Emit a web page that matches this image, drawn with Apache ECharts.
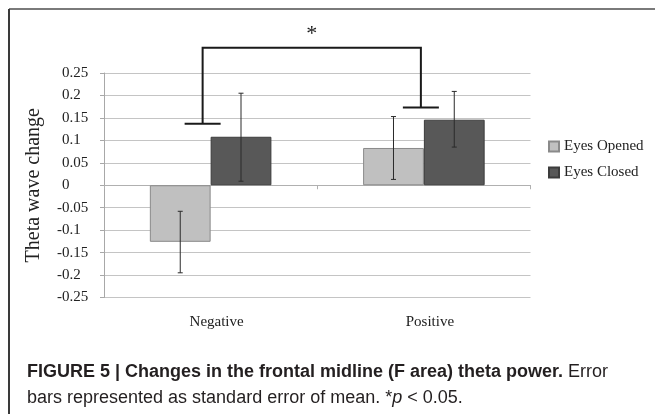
<!DOCTYPE html>
<html>
<head>
<meta charset="utf-8">
<script src="https://cdn.jsdelivr.net/npm/echarts@6/dist/echarts.min.js"></script>
<style>
html,body{margin:0;padding:0;background:#fff;}
#chart{width:655px;height:414px;}
</style>
</head>
<body>
<div id="chart"></div>
<script>
// ---- data ----
const categories = ['Negative', 'Positive'];
const seriesNames = ['Eyes Opened', 'Eyes Closed'];
const eyesOpened = [-0.126, 0.083];
const eyesClosed = [0.108, 0.146];
const openedErrLow = [-0.195, 0.013];
const openedErrHigh = [-0.058, 0.153];
const closedErrLow = [0.009, 0.085];
const closedErrHigh = [0.205, 0.209];
const bracketEnds = [0.137, 0.173];   // cap levels over Negative / Positive
const bracketTop = 0.306;
const starLevel = 0.336;
const yMin = -0.25, yMax = 0.25, yStep = 0.05;

// ---- style constants ----
const CAT_GAP = 0.43;
const serif = 'Liberation Serif';
const lightColor = '#c0c0c0', darkColor = '#585858';

function errData(lo, hi) {
  return categories.map((c, i) => [i, lo[i], hi[i]]);
}
function errRender(sign) {
  return function (params, api) {
    const i = api.value(0);
    const lo = api.coord([i, api.value(1)]);
    const hi = api.coord([i, api.value(2)]);
    const band = api.size([1, 0])[0];
    const bw = band * (1 - CAT_GAP) / 2;
    const cx = lo[0] + sign * bw / 2;
    const cap = 2.5;
    const st = { stroke: '#2a2a2a', lineWidth: 1 };
    return {
      type: 'group',
      children: [
        { type: 'line', shape: { x1: cx, y1: lo[1], x2: cx, y2: hi[1] }, style: st },
        { type: 'line', shape: { x1: cx - cap, y1: hi[1], x2: cx + cap, y2: hi[1] }, style: st },
        { type: 'line', shape: { x1: cx - cap, y1: lo[1], x2: cx + cap, y2: lo[1] }, style: st }
      ]
    };
  };
}
function bracketRender(params, api) {
  const a = api.coord([0, bracketEnds[0]]);
  const b = api.coord([1, bracketEnds[1]]);
  const topY = api.coord([0, bracketTop])[1];
  const starY = api.coord([0, starLevel])[1];
  const ax = a[0] - 8, bx = b[0] - 3;
  const capW = 18;
  const st = { stroke: '#1a1a1a', lineWidth: 2, fill: null };
  return {
    type: 'group',
    children: [
      { type: 'polyline', shape: { points: [[ax, a[1]], [ax, topY], [bx, topY], [bx, b[1]]] }, style: st },
      { type: 'line', shape: { x1: ax - capW, y1: a[1], x2: ax + capW, y2: a[1] }, style: st },
      { type: 'line', shape: { x1: bx - capW, y1: b[1], x2: bx + capW, y2: b[1] }, style: st },
      { type: 'text', x: (ax + bx) / 2, y: starY,
        style: { text: '*', font: '22px "Liberation Serif"', fill: '#1a1a1a', align: 'center', verticalAlign: 'middle' } }
    ]
  };
}

const chart = echarts.init(document.getElementById('chart'), null, { renderer: 'canvas' });
chart.setOption({
  animation: false,
  backgroundColor: '#fff',
  grid: { left: 104, right: 124.5, top: 73, bottom: 116.5, containLabel: false },
  legend: {
    orient: 'vertical', left: 543, top: 134,
    data: seriesNames,
    icon: 'rect', itemWidth: 10, itemHeight: 10, itemGap: 11,
    textStyle: { fontFamily: serif, fontSize: 15, color: '#222', lineHeight: 14 }
  },
  xAxis: [
    {
      type: 'category', data: categories, position: 'bottom',
      axisLine: { show: false, onZero: false },
      axisTick: { show: false },
      axisLabel: { fontFamily: serif, fontSize: 15, color: '#222', margin: 17, padding: [0, 0, 0, 12] },
      splitLine: { show: false }
    },
    {
      type: 'category', data: categories, position: 'bottom', gridIndex: 0,
      axisLine: { show: true, onZero: true, lineStyle: { color: '#b0b0b0', width: 1 } },
      axisTick: { show: true, length: 4, lineStyle: { color: '#b0b0b0' } },
      axisLabel: { show: false },
      splitLine: { show: false }
    }
  ],
  yAxis: {
    type: 'value', min: yMin, max: yMax, interval: yStep,
    name: 'Theta wave change', nameLocation: 'middle', nameGap: 60, nameRotate: 90,
    nameTextStyle: { fontFamily: serif, fontSize: 20, color: '#222' },
    axisLine: { show: true, lineStyle: { color: '#a8a8a8' } },
    axisTick: { show: true, length: 4, lineStyle: { color: '#a8a8a8' } },
    axisLabel: {
      align: 'left', margin: 47, color: '#222',
      formatter: function (v) {
        const s = String(Math.round(v * 100) / 100);
        return s.charAt(0) === '-' ? '{n|' + s + '}' : '{h|-}{n|' + s + '}';
      },
      rich: {
        n: { fontFamily: serif, fontSize: 15, color: '#222' },
        h: { fontFamily: serif, fontSize: 15, color: 'rgba(0,0,0,0)' }
      }
    },
    splitLine: { show: true, lineStyle: { color: '#c4c4c4', width: 1 } }
  },
  series: [
    {
      name: seriesNames[0], type: 'bar', data: eyesOpened,
      barGap: '0%', barCategoryGap: (CAT_GAP * 100) + '%',
      itemStyle: { color: lightColor, borderColor: '#8a8a8a', borderWidth: 1 }
    },
    {
      name: seriesNames[1], type: 'bar', data: eyesClosed,
      barGap: '0%', barCategoryGap: (CAT_GAP * 100) + '%',
      itemStyle: { color: darkColor, borderColor: '#3c3c3c', borderWidth: 1 }
    },
    {
      type: 'custom', name: 'errOpened', data: errData(openedErrLow, openedErrHigh),
      encode: { x: 0, y: [1, 2] }, renderItem: errRender(-1), z: 5, silent: true
    },
    {
      type: 'custom', name: 'errClosed', data: errData(closedErrLow, closedErrHigh),
      encode: { x: 0, y: [1, 2] }, renderItem: errRender(1), z: 5, silent: true
    },
    {
      type: 'custom', name: 'bracket', data: [[0, bracketTop]],
      encode: { x: 0, y: 1 }, renderItem: bracketRender, clip: false, z: 6, silent: true
    }
  ],
  graphic: [
    { type: 'line', shape: { x1: 9, y1: 9, x2: 655, y2: 9 }, style: { stroke: '#7a7a7a', lineWidth: 2 } },
    { type: 'line', shape: { x1: 9, y1: 9, x2: 9, y2: 414 }, style: { stroke: '#3a3a3a', lineWidth: 2 } },
    {
      type: 'text', x: 27, y: 372,
      style: {
        text: '{b|FIGURE 5 | Changes in the frontal midline (F area) theta power.}{r| Error}',
        verticalAlign: 'middle',
        rich: {
          b: { fontFamily: 'Liberation Sans', fontWeight: 'bold', fontSize: 18, fill: '#231f20' },
          r: { fontFamily: 'Liberation Sans', fontSize: 18, fill: '#231f20' }
        }
      }
    },
    {
      type: 'text', x: 27, y: 398,
      style: {
        text: '{r|bars represented as standard error of mean. *}{i|p}{r| < 0.05.}',
        verticalAlign: 'middle',
        rich: {
          r: { fontFamily: 'Liberation Sans', fontSize: 18, fill: '#231f20' },
          i: { fontFamily: 'Liberation Sans', fontStyle: 'italic', fontSize: 18, fill: '#231f20' }
        }
      }
    }
  ]
});
</script>
</body>
</html>
